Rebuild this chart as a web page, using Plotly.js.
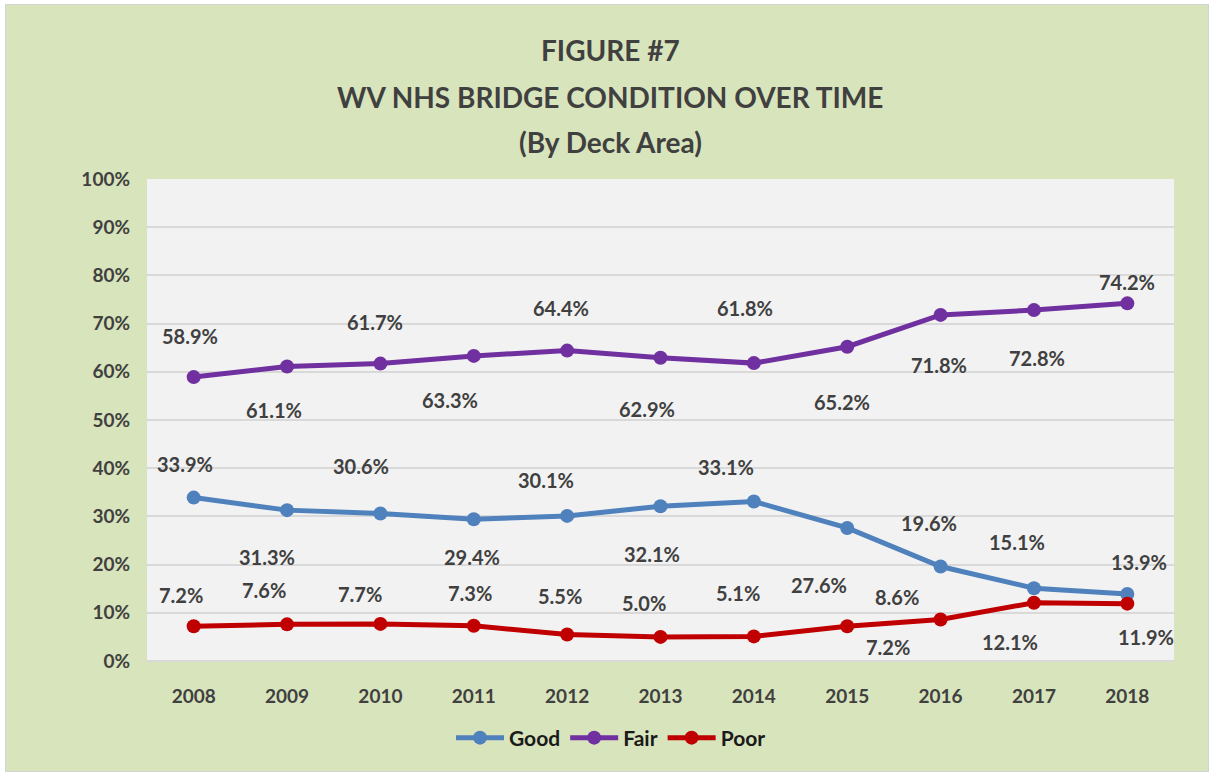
<!DOCTYPE html>
<html>
<head>
<meta charset="utf-8">
<script src="https://cdn.plot.ly/plotly-3.0.1.min.js"></script>
<style>
  html, body { margin: 0; padding: 0; background: #ffffff; }
  #frame { position: absolute; left: 5px; top: 4px; border: 1px solid #d4d4d4; }
  #chart { width: 1202px; height: 766px; }
</style>
</head>
<body>
<div id="frame"><div id="chart"></div></div>
<script>
// ---- data ----
const years = ['2008','2009','2010','2011','2012','2013','2014','2015','2016','2017','2018'];
const good  = [33.9, 31.3, 30.6, 29.4, 30.1, 32.1, 33.1, 27.6, 19.6, 15.1, 13.9];
const fair  = [58.9, 61.1, 61.7, 63.3, 64.4, 62.9, 61.8, 65.2, 71.8, 72.8, 74.2];
const poor  = [7.2, 7.6, 7.7, 7.3, 5.5, 5.0, 5.1, 7.2, 8.6, 12.1, 11.9];
const seriesNames = ['Good', 'Fair', 'Poor'];
const titleLines = ['FIGURE #7', 'WV NHS BRIDGE CONDITION OVER TIME', '(By Deck Area)'];

// ---- styling / label placement (pixel offsets, screen coords: +down) ----
const colors = ['#4f81bd', '#7030a0', '#c00000'];
const labelOffsets = [
  [[-9,-34],[-20,47],[-19,-48],[-2,38],[-21,-36],[-9,48],[-28,-34],[-28,57],[-12,-44],[-17,-46],[12,-32]],
  [[-4,-41],[-13,43],[-5,-42],[-24,44],[-6,-43],[-14,51],[-9,-55],[-5,55],[-2,50],[3,48],[0,-21]],
  [[-13,-31],[-23,-34],[-20,-30],[-4,-33],[-7,-38],[-17,-34],[-16,-43],[41,21],[-44,-23],[-24,39],[19,33]]
];
const FONT = 'Lato, "Open Sans", sans-serif';
const TXT = '#404040';

const allSeries = [good, fair, poor];
const traces = allSeries.map((vals, i) => ({
  type: 'scatter',
  mode: 'lines+markers',
  name: seriesNames[i],
  x: years,
  y: vals,
  line: { color: colors[i], width: 5 },
  marker: { color: colors[i], size: 14 },
  hoverinfo: 'x+y+name'
}));

const annotations = [];
allSeries.forEach((vals, i) => {
  vals.forEach((v, j) => {
    annotations.push({
      x: j, y: v, xref: 'x', yref: 'y',
      text: '<b>' + v.toFixed(1) + '%</b>',
      showarrow: false,
      xanchor: 'center', yanchor: 'middle',
      xshift: labelOffsets[i][j][0],
      yshift: -labelOffsets[i][j][1],
      font: { family: FONT, size: 20, color: TXT }
    });
  });
});

// title lines as centered annotations in paper coordinates
const plotTop = 174, plotH = 482;
const titleY = [45, 92, 137];
titleLines.forEach((t, k) => {
  annotations.push({
    xref: 'paper', yref: 'paper',
    x: (610 - 147) / 1027, y: 1 + (plotTop - titleY[k]) / plotH,
    xanchor: 'center', yanchor: 'middle',
    text: '<b>' + t + '</b>', showarrow: false,
    font: { family: FONT, size: 28, color: TXT }
  });
});

const layout = {
  width: 1202, height: 766,
  margin: { l: 141, r: 34, t: 174, b: 110 },
  paper_bgcolor: '#d8e4bc',
  plot_bgcolor: '#f2f2f2',
  showlegend: true,
  legend: {
    orientation: 'h',
    x: (611 - 147) / 1027, xanchor: 'center',
    y: (661 - 738) / 482, yanchor: 'middle',
    font: { family: FONT, size: 21, color: '#1a1a1a', weight: 'bold' },
    bgcolor: 'rgba(0,0,0,0)',
    itemwidth: 48,
    tracegroupgap: 0
  },
  xaxis: {
    type: 'category',
    range: [-0.5, 10.5],
    showgrid: false,
    zeroline: false,
    showline: false,
    ticks: '',
    ticklabelstandoff: 22,
    tickfont: { family: FONT, size: 19, color: TXT, weight: 'bold' },
    fixedrange: true
  },
  yaxis: {
    range: [0, 100],
    dtick: 10,
    ticksuffix: '%',
    showgrid: true,
    gridcolor: '#d9d9d9',
    gridwidth: 1.5,
    zeroline: true,
    zerolinecolor: '#d9d9d9',
    zerolinewidth: 1.5,
    showline: false,
    ticks: '',
    ticklabelstandoff: 16,
    tickfont: { family: FONT, size: 19, color: TXT, weight: 'bold' },
    fixedrange: true
  },
  annotations: annotations
};

Plotly.newPlot('chart', traces, layout, { displayModeBar: false });
</script>
</body>
</html>
